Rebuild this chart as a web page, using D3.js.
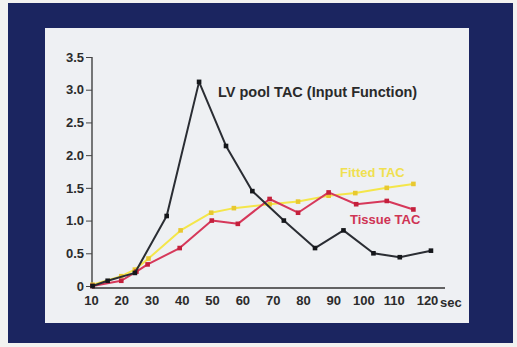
<!DOCTYPE html>
<html>
<head>
<meta charset="utf-8">
<script src="https://cdn.jsdelivr.net/npm/d3@7"></script>
<style>
  body { margin: 0; background: #f2f2f0; }
  svg { display: block; font-family: "Liberation Sans", Arial, sans-serif; }
</style>
</head>
<body>
<svg width="517" height="347"></svg>
<script>
// time (sec) and activity values
const lvTime = [10.5, 15.5, 24.5, 35, 45.7, 54.6, 63.3, 73.7, 84, 93.4, 103.3, 112, 122.3];
const lvValues = [0, 0.08, 0.2, 1.07, 3.12, 2.14, 1.45, 1.0, 0.58, 0.85, 0.5, 0.44, 0.54];

const fitTime = [10.5, 20, 24.5, 29, 39.6, 49.7, 57.2, 69, 78.4, 88.5, 97.3, 107.7, 116.5];
const fitValues = [0.02, 0.15, 0.25, 0.42, 0.85, 1.12, 1.19, 1.25, 1.29, 1.38, 1.42, 1.5, 1.56];

const tissueTime = [10.5, 20, 25, 28.7, 39.3, 49.9, 58.5, 69, 78.4, 88.5, 97.6, 107.7, 116.5];
const tissueValues = [0, 0.08, 0.22, 0.33, 0.58, 1.0, 0.95, 1.33, 1.12, 1.43, 1.25, 1.3, 1.17];

const xTicks = [10, 20, 30, 40, 50, 60, 70, 80, 90, 100, 110, 120];
const yTicks = [0, 0.5, 1.0, 1.5, 2.0, 2.5, 3.0, 3.5];

const svg = d3.select('svg');

// slide frame
svg.append('rect').attr('x', 8).attr('y', 3).attr('width', 505).attr('height', 340).attr('fill', '#1b2560');
svg.append('rect').attr('x', 45).attr('y', 28).attr('width', 424).attr('height', 295).attr('fill', '#eef0f3');

let x = d3.scaleLinear().domain([10, 120]).range([91, 424]);
let y = d3.scaleLinear().domain([0, 3.5]).range([286, 57]);

// axes
svg.append('line').attr('x1', x(10) + 1).attr('x2', x(10) + 1).attr('y1', y(3.5)).attr('y2', y(0) + 2)
    .attr('stroke', '#333').attr('stroke-width', 1.3);
svg.append('line').attr('x1', x(10) + 1).attr('x2', 445).attr('y1', y(0) + 2).attr('y2', y(0) + 2)
    .attr('stroke', '#333').attr('stroke-width', 1.3);

let yAxis = svg.append('g')
    .attr('transform', `translate(${x(10) + 1},0)`)
    .call(d3.axisLeft(y).tickValues(yTicks).tickSize(6).tickPadding(2)
        .tickFormat(d => d === 0 ? '0' : d3.format('.1f')(d)));
yAxis.select('.domain').remove();
yAxis.selectAll('line').attr('stroke', '#444').attr('stroke-width', 1);
yAxis.selectAll('text').attr('fill', '#2b2b2b').style('font-size', '13px').style('font-weight', 'bold');

let xAxis = svg.append('g')
    .attr('transform', `translate(0,${y(0) + 2})`)
    .call(d3.axisBottom(x).tickValues(xTicks).tickSize(0).tickPadding(8));
xAxis.select('.domain').remove();
xAxis.selectAll('text').attr('fill', '#2b2b2b').style('font-size', '13px').style('font-weight', 'bold')
    .attr('dx', d => d === 120 ? 3 : 0);

svg.append('text').attr('x', 440).attr('y', y(0) + 2 + 19)
    .attr('fill', '#2b2b2b').style('font-size', '13px').style('font-weight', 'bold').text('sec');

// series
const series = [
    {name: 'fit', t: fitTime, v: fitValues, color: '#f4e64a', mark: '#e8c830'},
    {name: 'tissue', t: tissueTime, v: tissueValues, color: '#d6385a', mark: '#c4203c'},
    {name: 'lv', t: lvTime, v: lvValues, color: '#2a2d33', mark: '#15171b'}
];

let line = d3.line().x(d => x(d[0])).y(d => y(d[1]));

series.forEach(s => {
    let pts = s.t.map((t, i) => [t, s.v[i]]);
    svg.append('path').datum(pts)
        .attr('d', line)
        .attr('fill', 'none')
        .attr('stroke', s.color)
        .attr('stroke-width', 2)
        .attr('stroke-linejoin', 'round');
    svg.append('g').selectAll('rect').data(pts).enter().append('rect')
        .attr('x', d => x(d[0]) - 2.3)
        .attr('y', d => y(d[1]) - 2.3)
        .attr('width', 4.6)
        .attr('height', 4.6)
        .attr('fill', s.mark);
});

// labels
svg.append('text').attr('x', 218).attr('y', 97).attr('fill', '#2a2a2a')
    .style('font-size', '14.5px').style('font-weight', 'bold').text('LV pool TAC (Input Function)');
svg.append('text').attr('x', 340).attr('y', 177).attr('fill', '#f0e050')
    .style('font-size', '13px').style('font-weight', 'bold').text('Fitted TAC');
svg.append('text').attr('x', 350).attr('y', 224).attr('fill', '#cf3454')
    .style('font-size', '13px').style('font-weight', 'bold').text('Tissue TAC');
</script>
</body>
</html>
